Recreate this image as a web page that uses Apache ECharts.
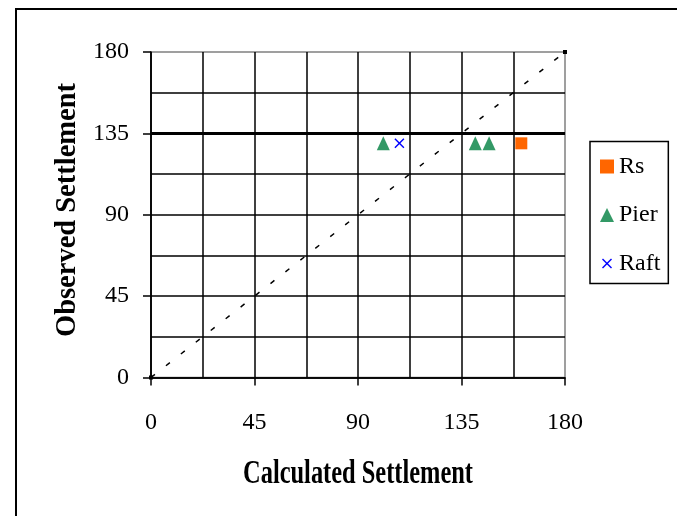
<!DOCTYPE html>
<html>
<head>
<meta charset="utf-8">
<script src="https://cdn.jsdelivr.net/npm/echarts@6/dist/echarts.min.js"></script>
<style>
  html, body { margin: 0; padding: 0; background: #fff; }
  #chart { width: 677px; height: 516px; }
</style>
</head>
<body>
<div id="chart"></div>
<script>
// Settlement comparison: observed vs calculated, with the 1:1 line
const axisTicks = [0, 45, 90, 135, 180];
const seriesNames = ['Rs', 'Pier', 'Raft'];
const rsPoints = [[161, 129.5]];
const pierPoints = [[101, 129.5], [141, 129.5], [147, 129.5]];
const raftPoints = [[108, 129.5]];
const equalityLine = [[0, 0], [180, 180]];
const highlightedLevels = [135];
const xTitle = 'Calculated Settlement';
const yTitle = 'Observed Settlement';

const SERIF = '"Liberation Serif", "Times New Roman", serif';
const crossPath = 'path://M0,1L1,0L5,4L9,0L10,1L6,5L10,9L9,10L5,6L1,10L0,9L4,5Z';

const chart = echarts.init(document.getElementById('chart'), null, { renderer: 'canvas' });

function valueAxis(extra) {
  return Object.assign({
    type: 'value',
    min: axisTicks[0],
    max: axisTicks[axisTicks.length - 1],
    interval: axisTicks[1] - axisTicks[0],
    axisLine: { show: true, onZero: false, lineStyle: { color: '#000', width: 1.5 } },
    axisTick: { show: true, length: 8, lineStyle: { color: '#000', width: 1.5 } },
    splitLine: { show: true, showMaxLine: false, lineStyle: { color: '#000', width: 1.5 } },
    minorTick: { show: false, splitNumber: 2 },
    minorSplitLine: { show: true, lineStyle: { color: '#000', width: 1.5 } }
  }, extra);
}

chart.setOption({
  backgroundColor: '#fff',
  animation: false,
  grid: {
    left: 151, right: 112, top: 52, bottom: 138.5,
    show: true, borderColor: '#808080', borderWidth: 1.5, backgroundColor: 'transparent'
  },
  xAxis: valueAxis({
    axisLabel: { margin: 33, fontFamily: SERIF, fontSize: 24, color: '#000' }
  }),
  yAxis: valueAxis({
    axisLabel: { margin: 22, fontFamily: SERIF, fontSize: 24, color: '#000' }
  }),
  legend: {
    orient: 'vertical',
    left: 590, top: 141.5,
    padding: [13, 8, 8, 10],
    itemGap: 24.5,
    itemWidth: 14, itemHeight: 14,
    itemTextGap: 7,
    borderColor: '#000', borderWidth: 1.5,
    backgroundColor: '#fff',
    textStyle: { fontFamily: SERIF, fontSize: 24, color: '#000' },
    data: [
      { name: seriesNames[0], icon: 'rect' },
      { name: seriesNames[1], icon: 'triangle' },
      { name: seriesNames[2], icon: 'path://M-2,-2M12,12M0,1L1,0L5,4L9,0L10,1L6,5L10,9L9,10L5,6L1,10L0,9L4,5Z' }
    ]
  },
  graphic: [
    {
      type: 'rect', silent: true, z: 100,
      shape: { x: 16, y: 9, width: 700, height: 600 },
      style: { fill: 'none', stroke: '#000', lineWidth: 2 }
    },
    {
      type: 'text', silent: true,
      x: 358, y: 474, scaleX: 0.74,
      style: { text: xTitle, font: 'bold 33px ' + SERIF, fill: '#000', align: 'center', verticalAlign: 'middle' }
    },
    {
      type: 'text', silent: true,
      x: 67, y: 210, rotation: Math.PI / 2, scaleX: 0.95,
      style: { text: yTitle, font: 'bold 30px ' + SERIF, fill: '#000', align: 'center', verticalAlign: 'middle' }
    }
  ],
  series: [
    {
      name: '1:1',
      type: 'line',
      data: equalityLine,
      symbol: 'rect', symbolSize: 4,
      itemStyle: { color: '#000' },
      lineStyle: { color: '#000', width: 1.5, type: [5, 14] },
      silent: true, z: 3,
      markLine: {
        silent: true, symbol: 'none', label: { show: false },
        lineStyle: { color: '#000', width: 3, type: 'solid' },
        data: highlightedLevels.map(v => ({ yAxis: v }))
      }
    },
    {
      name: seriesNames[0], type: 'scatter', data: rsPoints,
      symbol: 'rect', symbolSize: 12,
      itemStyle: { color: '#FF6600', opacity: 1 }, z: 5
    },
    {
      name: seriesNames[1], type: 'scatter', data: pierPoints,
      symbol: 'triangle', symbolSize: [13, 14],
      itemStyle: { color: '#339966', opacity: 1 }, z: 5
    },
    {
      name: seriesNames[2], type: 'scatter', data: raftPoints,
      symbol: crossPath, symbolSize: 10,
      itemStyle: { color: '#0000FF', opacity: 1 }, z: 5
    }
  ]
});
</script>
</body>
</html>
